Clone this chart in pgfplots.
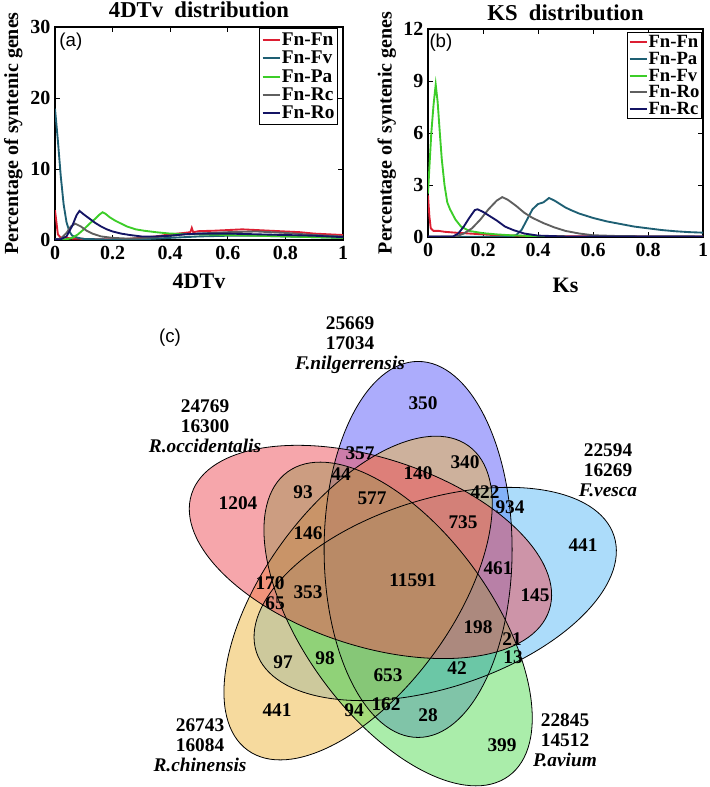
\documentclass[border=0pt]{standalone}
\usepackage{pgfplots}
\pgfplotsset{compat=1.18}
\usepackage{fontspec}
\setmainfont{Liberation Serif}
\newfontfamily\arialfont{Liberation Sans}
\definecolor{cRed}{RGB}{220,30,50}
\definecolor{cTeal}{RGB}{30,95,115}
\definecolor{cGreen}{RGB}{60,205,40}
\definecolor{cGrey}{RGB}{95,95,95}
\definecolor{cNavy}{RGB}{20,20,100}
\definecolor{vBlue}{RGB}{90,90,250}
\definecolor{vPink}{RGB}{238,78,88}
\definecolor{vLBlue}{RGB}{90,185,245}
\definecolor{vGreen}{RGB}{85,220,85}
\definecolor{vTan}{RGB}{238,182,62}
\newcommand\vnum{\fontsize{14.5}{14.5}\selectfont\bfseries}
\newcommand\vset{\fontsize{14.5}{15}\selectfont\bfseries}

\pgfplotsset{
  distplot/.style={
    scale only axis, clip=true,
    xmin=0, xmax=1, ymin=0,
    xtick={0,0.2,0.4,0.6,0.8,1},
    tick align=inside, major tick length=4pt,
    axis line style={line width=0.8pt},
    every tick/.style={black, line width=0.6pt},
    /pgf/number format/assume math mode=true,
    ticklabel style={font=\fontsize{15}{15}\selectfont\bfseries},
    xticklabel style={yshift=-1pt},
    legend cell align=left,
    legend image code/.code={\draw[##1,line width=1.4pt] (0pt,0pt) -- (13pt,0pt);},
    every axis plot/.append style={line width=1.4pt},
  }
}

\begin{document}
\begin{tikzpicture}
\useasboundingbox (0pt,0pt) rectangle (531.75pt,590.25pt);

% ---------------- (a) 4DTv ----------------
\begin{axis}[distplot,
  at={(41.25pt,410.25pt)}, anchor=south west,
  width=216pt, height=159.75pt,
  ymax=30, ytick={0,10,20,30},
  every axis title/.style={at={(rel axis cs:0.5,1.08)}, anchor=center, font=\fontsize{17}{17}\selectfont\bfseries},
  every axis x label/.style={at={(rel axis cs:0.5,-0.195)}, anchor=center, font=\fontsize{16.5}{16.5}\selectfont\bfseries},
  every axis y label/.style={at={(rel axis cs:-0.145,0.5)}, rotate=90, anchor=center, font=\fontsize{15}{15}\selectfont\bfseries},
  title={4DTv\ \ distribution}, xlabel={4DTv}, ylabel={Percentage of syntenic genes},
  legend style={font=\fontsize{14.5}{14.5}\selectfont\bfseries, draw=black, line width=0.8pt,
    at={(0.983,0.995)}, anchor=north east, inner sep=1.5pt,
    nodes={inner sep=0.8pt, text height=10.2pt, text depth=2pt}},
]
\addplot[cRed] coordinates {(0,4.2)(0.005,2.5)(0.01,0.8)(0.02,0.3)(0.03,0.4)(0.04,0.3)(0.06,0.2)(0.1,0.15)(0.15,0.1)(0.2,0.1)(0.25,0.15)(0.3,0.3)(0.35,0.5)(0.4,0.8)(0.45,1.0)(0.47,1.1)(0.475,1.7)(0.48,1.1)(0.5,1.25)(0.55,1.3)(0.6,1.4)(0.65,1.5)(0.7,1.4)(0.75,1.3)(0.8,1.2)(0.85,1.1)(0.9,0.9)(0.95,0.8)(1.0,0.7)};
\addlegendentry{Fn-Fn}
\addplot[cTeal] coordinates {(0,18.5)(0.01,14)(0.02,9)(0.03,5)(0.04,2.5)(0.05,1.2)(0.06,0.6)(0.08,0.3)(0.1,0.15)(0.2,0.05)(0.3,0.1)(0.4,0.3)(0.5,0.5)(0.6,0.6)(0.7,0.6)(0.8,0.5)(0.9,0.4)(1.0,0.3)};
\addlegendentry{Fn-Fv}
\addplot[cGreen] coordinates {(0,0.1)(0.04,0.1)(0.06,0.3)(0.08,0.8)(0.1,1.5)(0.12,2.3)(0.14,3.0)(0.155,3.6)(0.165,3.9)(0.175,3.7)(0.19,3.2)(0.21,2.7)(0.23,2.3)(0.25,1.9)(0.28,1.5)(0.31,1.3)(0.35,1.1)(0.4,0.9)(0.45,0.85)(0.5,0.8)(0.55,0.75)(0.6,0.7)(0.7,0.6)(0.8,0.5)(0.9,0.4)(1.0,0.3)};
\addlegendentry{Fn-Pa}
\addplot[cGrey] coordinates {(0,0.1)(0.02,0.2)(0.04,1.0)(0.055,1.9)(0.07,2.3)(0.09,1.9)(0.11,1.3)(0.13,0.9)(0.16,0.5)(0.2,0.3)(0.25,0.2)(0.3,0.25)(0.35,0.4)(0.4,0.6)(0.45,0.8)(0.5,0.9)(0.6,1.1)(0.7,1.2)(0.8,1.0)(0.9,0.7)(1.0,0.5)};
\addlegendentry{Fn-Rc}
\addplot[cNavy] coordinates {(0,0.1)(0.02,0.1)(0.04,0.5)(0.06,2.0)(0.075,3.5)(0.085,4.1)(0.1,3.6)(0.12,3.0)(0.14,2.4)(0.16,1.9)(0.18,1.5)(0.2,1.2)(0.23,0.9)(0.26,0.7)(0.3,0.5)(0.35,0.5)(0.4,0.6)(0.45,0.8)(0.5,0.9)(0.6,0.9)(0.7,0.8)(0.8,0.7)(0.9,0.6)(1.0,0.4)};
\addlegendentry{Fn-Ro}
\node[font=\arialfont\fontsize{14}{14}\selectfont] at (rel axis cs:0.055,0.93) {(a)};
\end{axis}

% ---------------- (b) KS ----------------
\begin{axis}[distplot,
  at={(321pt,412.5pt)}, anchor=south west,
  width=206.25pt, height=156pt,
  ymax=12, ytick={0,3,6,9,12},
  every axis title/.style={at={(rel axis cs:0.5,1.077)}, anchor=center, font=\fontsize{17}{17}\selectfont\bfseries},
  every axis x label/.style={at={(rel axis cs:0.5,-0.231)}, anchor=center, font=\fontsize{16.5}{16.5}\selectfont\bfseries},
  every axis y label/.style={at={(rel axis cs:-0.150,0.5)}, rotate=90, anchor=center, font=\fontsize{15}{15}\selectfont\bfseries},
  title={KS\ \ distribution}, xlabel={Ks}, ylabel={Percentage of syntenic genes},
  legend style={font=\fontsize{14}{14}\selectfont\bfseries, draw=black, line width=0.8pt,
    at={(0.996,0.985)}, anchor=north east, inner sep=1pt,
    nodes={inner sep=0.5pt, text height=10pt, text depth=1.5pt}},
]
\addplot[cRed] coordinates {(0,2.4)(0.005,1.2)(0.01,0.5)(0.02,0.35)(0.04,0.35)(0.06,0.3)(0.1,0.25)(0.15,0.2)(0.2,0.15)(0.25,0.1)(0.3,0.08)(0.4,0.05)(0.6,0.04)(0.8,0.03)(1,0.03)};
\addlegendentry{Fn-Fn}
\addplot[cTeal] coordinates {(0,0)(0.3,0.02)(0.32,0.1)(0.34,0.4)(0.36,1.0)(0.38,1.6)(0.4,1.9)(0.42,2.0)(0.44,2.25)(0.46,2.1)(0.48,1.9)(0.5,1.7)(0.52,1.55)(0.55,1.35)(0.6,1.1)(0.65,0.9)(0.7,0.75)(0.75,0.6)(0.8,0.5)(0.85,0.4)(0.9,0.33)(0.95,0.28)(1.0,0.25)};
\addlegendentry{Fn-Pa}
\addplot[cGreen] coordinates {(0,2.5)(0.005,4)(0.012,6)(0.02,7.6)(0.028,8.8)(0.035,7.8)(0.043,6)(0.05,4.5)(0.06,3.0)(0.07,2.0)(0.08,1.6)(0.1,1.0)(0.12,0.6)(0.15,0.35)(0.2,0.22)(0.25,0.15)(0.3,0.1)(0.35,0.07)(0.4,0.03)(0.5,0.02)};
\addlegendentry{Fn-Fv}
\addplot[cGrey] coordinates {(0,0.02)(0.1,0.02)(0.13,0.2)(0.16,0.5)(0.19,1.0)(0.22,1.6)(0.25,2.1)(0.27,2.3)(0.29,2.15)(0.32,1.8)(0.35,1.4)(0.38,1.1)(0.42,0.8)(0.46,0.55)(0.5,0.35)(0.55,0.2)(0.6,0.1)(0.7,0.05)(1,0.03)};
\addlegendentry{Fn-Ro}
\addplot[cNavy] coordinates {(0,0.02)(0.09,0.02)(0.11,0.2)(0.13,0.6)(0.15,1.1)(0.17,1.55)(0.18,1.6)(0.2,1.45)(0.22,1.25)(0.25,0.95)(0.28,0.6)(0.31,0.4)(0.35,0.2)(0.4,0.08)(0.5,0.03)(1,0.02)};
\addlegendentry{Fn-Rc}
\node[font=\arialfont\fontsize{14}{14}\selectfont] at (rel axis cs:0.047,0.933) {(b)};
\end{axis}

% ---------------- (c) Venn ----------------
\begin{axis}[at={(0pt,0pt)}, anchor=south west, scale only axis,
  width=531.75pt, height=590.25pt,
  xmin=0, xmax=709, ymin=0, ymax=787, hide axis, clip=false]
\fill[vBlue, fill opacity=0.5, rotate around={90:(axis cs:418.1,237.55)}] (axis cs:418.1,237.55) ellipse [x radius=141pt, y radius=70.5pt];
\fill[vLBlue, fill opacity=0.5, rotate around={18:(axis cs:435.2,193.0)}] (axis cs:435.2,193.0) ellipse [x radius=141pt, y radius=70.5pt];
\fill[vTan, fill opacity=0.5, rotate around={54:(axis cs:358.1,188.95)}] (axis cs:358.1,188.95) ellipse [x radius=141pt, y radius=70.5pt];
\fill[vGreen, fill opacity=0.5, rotate around={-54:(axis cs:398.1,163.0)}] (axis cs:398.1,163.0) ellipse [x radius=141pt, y radius=70.5pt];
\fill[vPink, fill opacity=0.5, rotate around={-18:(axis cs:370.45,235.05)}] (axis cs:370.45,235.05) ellipse [x radius=141pt, y radius=70.5pt];
\draw[black, line width=0.6pt, rotate around={90:(axis cs:418.1,237.55)}] (axis cs:418.1,237.55) ellipse [x radius=141pt, y radius=70.5pt];
\draw[black, line width=0.6pt, rotate around={18:(axis cs:435.2,193.0)}] (axis cs:435.2,193.0) ellipse [x radius=141pt, y radius=70.5pt];
\draw[black, line width=0.6pt, rotate around={54:(axis cs:358.1,188.95)}] (axis cs:358.1,188.95) ellipse [x radius=141pt, y radius=70.5pt];
\draw[black, line width=0.6pt, rotate around={-54:(axis cs:398.1,163.0)}] (axis cs:398.1,163.0) ellipse [x radius=141pt, y radius=70.5pt];
\draw[black, line width=0.6pt, rotate around={-18:(axis cs:370.45,235.05)}] (axis cs:370.45,235.05) ellipse [x radius=141pt, y radius=70.5pt];

\node[font=\vnum] at (axis cs:423,384) {350};
\node[font=\vnum] at (axis cs:360,334) {357};
\node[font=\vnum] at (axis cs:341,313) {44};
\node[font=\vnum] at (axis cs:418,314) {140};
\node[font=\vnum] at (axis cs:465,325) {340};
\node[font=\vnum] at (axis cs:303,295) {93};
\node[font=\vnum] at (axis cs:238,284) {1204};
\node[font=\vnum] at (axis cs:372,289) {577};
\node[font=\vnum] at (axis cs:485,295) {422};
\node[font=\vnum] at (axis cs:510,280) {934};
\node[font=\vnum] at (axis cs:463,265) {735};
\node[font=\vnum] at (axis cs:583,242) {441};
\node[font=\vnum] at (axis cs:308,254) {146};
\node[font=\vnum] at (axis cs:498,219) {461};
\node[font=\vnum] at (axis cs:413,207) {11591};
\node[font=\vnum] at (axis cs:535,192) {145};
\node[font=\vnum] at (axis cs:270,204) {170};
\node[font=\vnum] at (axis cs:308,195) {353};
\node[font=\vnum] at (axis cs:275,184) {65};
\node[font=\vnum] at (axis cs:478,160) {198};
\node[font=\vnum] at (axis cs:512,148) {21};
\node[font=\vnum] at (axis cs:513,130) {13};
\node[font=\vnum] at (axis cs:457,119) {42};
\node[font=\vnum] at (axis cs:283,125) {97};
\node[font=\vnum] at (axis cs:325,129) {98};
\node[font=\vnum] at (axis cs:388,112) {653};
\node[font=\vnum] at (axis cs:277,77) {441};
\node[font=\vnum] at (axis cs:354,77) {94};
\node[font=\vnum] at (axis cs:386,83) {162};
\node[font=\vnum] at (axis cs:428,72) {28};
\node[font=\vnum] at (axis cs:502,42) {399};

\node[font=\vset, align=center] at (axis cs:350,442) {25669\\17034\\\textit{F.nilgerrensis}};
\node[font=\vset, align=center] at (axis cs:205,361) {24769\\16300\\\textit{R.occidentalis}};
\node[font=\vset, align=center] at (axis cs:608,317) {22594\\16269\\\textit{F.vesca}};
\node[font=\vset, align=center] at (axis cs:200,42) {26743\\16084\\\textit{R.chinensis}};
\node[font=\vset, align=center] at (axis cs:565,47) {22845\\14512\\\textit{P.avium}};
\node[font=\arialfont\fontsize{14}{14}\selectfont] at (axis cs:170,449) {(c)};
\end{axis}
\end{tikzpicture}
\end{document}
